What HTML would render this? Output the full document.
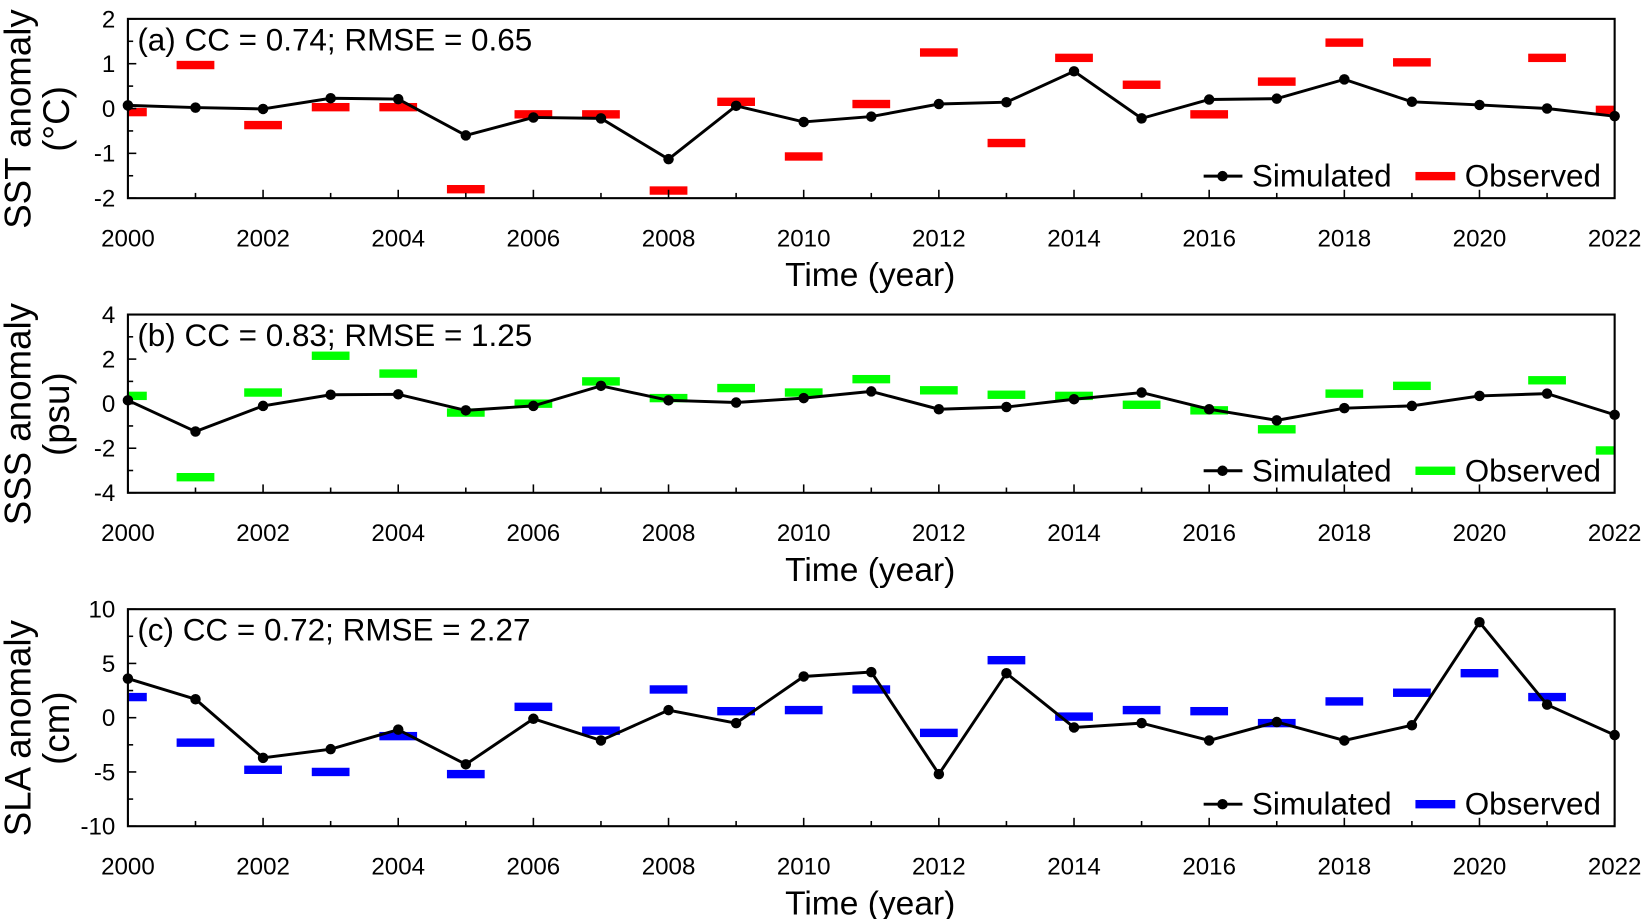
<!DOCTYPE html>
<html><head><meta charset="utf-8">
<style>
html,body{margin:0;padding:0;background:#fff;}
svg{display:block;font-family:"Liberation Sans",Arial,sans-serif;}
</style></head>
<body>
<svg id="fig" width="1644" height="919" viewBox="0 0 1568 876.5" preserveAspectRatio="none" xmlns="http://www.w3.org/2000/svg"></svg>
<script>
const years = [2000,2001,2002,2003,2004,2005,2006,2007,2008,2009,2010,2011,2012,2013,2014,2015,2016,2017,2018,2019,2020,2021,2022];
const xTicks = [2000,2002,2004,2006,2008,2010,2012,2014,2016,2018,2020,2022];

const sstSim = [0.07,0.02,-0.01,0.23,0.21,-0.6,-0.2,-0.22,-1.13,0.06,-0.3,-0.18,0.1,0.14,0.83,-0.22,0.2,0.22,0.65,0.15,0.08,0.0,-0.17];
const sstObs = [-0.08,0.97,-0.37,0.03,0.03,-1.8,-0.13,-0.13,-1.83,0.15,-1.07,0.1,1.25,-0.77,1.13,0.53,-0.13,0.6,1.47,1.03,null,1.13,-0.03];
const sstTicks = [2,1,0,-1,-2];

const sssSim = [0.15,-1.25,-0.1,0.4,0.42,-0.3,-0.1,0.8,0.15,0.05,0.25,0.55,-0.25,-0.15,0.2,0.5,-0.25,-0.75,-0.2,-0.1,0.35,0.45,-0.5];
const sssObs = [0.35,-3.3,0.5,2.15,1.35,-0.4,0.0,1.0,0.25,0.7,0.5,1.1,0.6,0.4,0.35,-0.05,-0.3,-1.15,0.45,0.8,null,1.05,-2.1];
const sssTicks = [4,2,0,-2,-4];

const slaSim = [3.6,1.7,-3.7,-2.9,-1.1,-4.3,-0.1,-2.1,0.7,-0.5,3.8,4.2,-5.2,4.1,-0.9,-0.5,-2.1,-0.4,-2.1,-0.7,8.8,1.2,-1.6];
const slaObs = [1.9,-2.3,-4.8,-5.0,-1.7,-5.2,1.0,-1.2,2.6,0.6,0.7,2.6,-1.4,5.3,0.1,0.7,0.6,-0.5,1.5,2.3,4.1,1.9,null];
const slaTicks = [10,5,0,-5,-10];

const NS='http://www.w3.org/2000/svg';
const svg=document.getElementById('fig');
function mk(tag,attrs,parent){const e=document.createElementNS(NS,tag);for(const k in attrs)e.setAttribute(k,attrs[k]);(parent||svg).appendChild(e);return e;}

const panels=[
 {key:'sst',top:18,bottom:189,ymin:-2,ymax:2,sim:sstSim,obs:sstObs,ticks:sstTicks,color:'#ff0000',label:'(a) CC = 0.74; RMSE = 0.65',t1:'SST anomaly',t2:'(°C)'},
 {key:'sss',top:300,bottom:470,ymin:-4,ymax:4,sim:sssSim,obs:sssObs,ticks:sssTicks,color:'#00ff00',label:'(b) CC = 0.83; RMSE = 1.25',t1:'SSS anomaly',t2:'(psu)'},
 {key:'sla',top:581,bottom:788,ymin:-10,ymax:10,sim:slaSim,obs:slaObs,ticks:slaTicks,color:'#0000ff',label:'(c) CC = 0.72; RMSE = 2.27',t1:'SLA anomaly',t2:'(cm)'}
];
const L=122,R=1540;
const xs=y=>L+(y-2000)/22*(R-L);

panels.forEach(p=>{
 const ys=v=>p.bottom-(v-p.ymin)/(p.ymax-p.ymin)*(p.bottom-p.top);
 const g=mk('g',{});
 
 
 const cid='clip-'+p.key;
 const cp=mk('clipPath',{id:cid},g);mk('rect',{x:L,y:p.top,width:R-L,height:p.bottom-p.top},cp);
 const og=mk('g',{'clip-path':'url(#'+cid+')'},g);
 p.obs.forEach((v,i)=>{ if(v===null)return;
  const r=mk('rect',{x:xs(years[i])-18,y:ys(v)-4,width:36,height:8,fill:p.color},og);
  
  
 });
 const pts=p.sim.map((v,i)=>xs(years[i]).toFixed(1)+','+ys(v).toFixed(1)).join(' ');
 const pl=mk('polyline',{points:pts,fill:'none',stroke:'#000','stroke-width':2.8},g);
 
 
 p.sim.forEach((v,i)=>{
  const c=mk('circle',{cx:xs(years[i]),cy:ys(v),r:5,fill:'#000'},g);
  
  
 });
 const fr=mk('rect',{x:L,y:p.top,width:R-L,height:p.bottom-p.top,fill:'none',stroke:'#000','stroke-width':2},g);
 
 
 years.forEach(y=>{
  const len=xTicks.includes(y)?8:5;
  mk('line',{x1:xs(y),x2:xs(y),y1:p.bottom,y2:p.bottom-len,stroke:'#000','stroke-width':1.5},g);
 });
 xTicks.forEach(y=>{
  const t=mk('text',{x:xs(y),y:p.bottom+46,'font-size':23,'text-anchor':'middle'},g);t.textContent=y;
  
  
 });
 const step=p.ticks[0]-p.ticks[1];
 for(let v=p.ymin;v<=p.ymax+1e-9;v+=step/2){
  const major=p.ticks.some(t=>Math.abs(t-v)<1e-9);
  mk('line',{x1:L,x2:L+(major?8:5),y1:ys(v),y2:ys(v),stroke:'#000','stroke-width':1.5},g);
 }
 p.ticks.forEach(v=>{
  const t=mk('text',{x:L-12,y:ys(v)+8,'font-size':23,'text-anchor':'end'},g);t.textContent=v;
  
  
 });
 const xt=mk('text',{x:(L+R)/2-1,y:p.bottom+84,'font-size':32,'text-anchor':'middle'},g);xt.textContent='Time (year)';
 
 
 const cy=(p.top+p.bottom)/2+10;
 const y1=mk('text',{x:0,y:0,'font-size':35,'text-anchor':'middle',transform:`translate(29,${cy}) rotate(-90)`},g);y1.textContent=p.t1;
 
 
 const y2=mk('text',{x:0,y:0,'font-size':35,'text-anchor':'middle',transform:`translate(66,${cy}) rotate(-90)`},g);y2.textContent=p.t2;
 
 
 const an=mk('text',{x:131,y:p.top+30,'font-size':30},g);an.textContent=p.label;
 
 
 const ly=p.bottom-21;
 const lg=mk('g',{},g);
 
 
 mk('line',{x1:1148,x2:1185,y1:ly,y2:ly,stroke:'#000','stroke-width':2.8},lg);
 mk('circle',{cx:1166,cy:ly,r:5,fill:'#000'},lg);
 const ls=mk('text',{x:1194,y:ly+10,'font-size':30},lg);ls.textContent='Simulated';
 
 
 mk('rect',{x:1350,y:ly-4,width:38,height:8,fill:p.color},lg);
 const lo=mk('text',{x:1397,y:ly+10,'font-size':30},lg);lo.textContent='Observed';
 
 
});
</script>
</body></html>
